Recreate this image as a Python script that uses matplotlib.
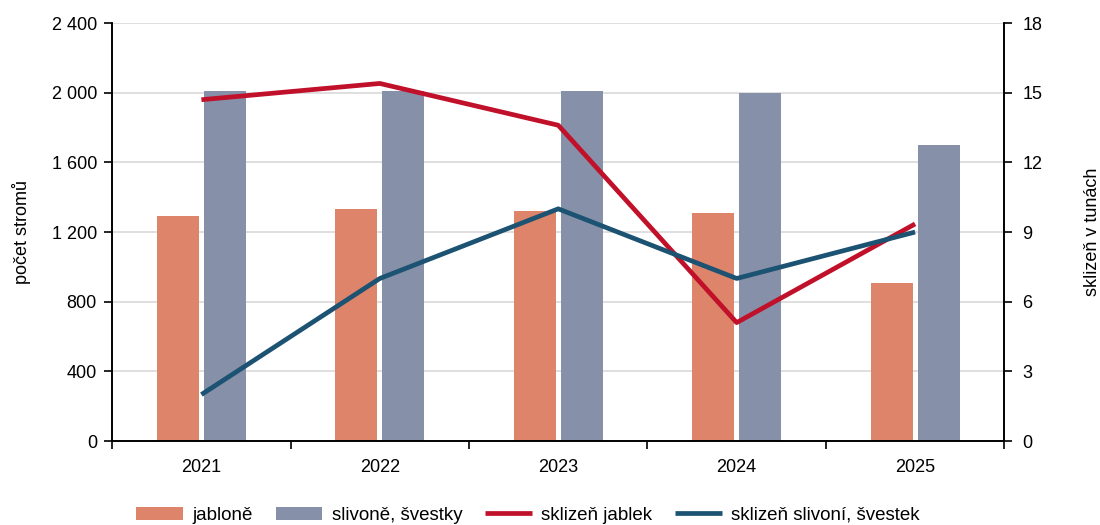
import matplotlib.pyplot as plt
import numpy as np

plt.rcParams['font.family'] = ['Liberation Sans', 'DejaVu Sans']

years = ['2021', '2022', '2023', '2024', '2025']
jablone = [1290, 1330, 1320, 1310, 905]
slivone = [2010, 2010, 2010, 2000, 1700]
sklizen_jablek = [14.7, 15.4, 13.6, 5.1, 9.35]
sklizen_slivoni = [2, 7, 10, 7, 9]

c_jab = '#DD846A'
c_sliv = '#8690A8'
c_red = '#C0102A'
c_blue = '#1C5272'

fig = plt.figure(figsize=(11, 5.25), dpi=100)
ax = fig.add_axes([0.102, 0.16, 0.811, 0.796])
ax2 = ax.twinx()

x = np.arange(len(years))
w = 0.235
off = 0.132
ax.bar(x - off, jablone, w, color=c_jab, label='jabloně', zorder=2)
ax.bar(x + off, slivone, w, color=c_sliv, label='slivoně, švestky', zorder=2)

ax2.plot(x, sklizen_jablek, color=c_red, lw=3.4, label='sklizeň jablek', solid_capstyle='butt')
ax2.plot(x, sklizen_slivoni, color=c_blue, lw=3.4, label='sklizeň slivoní, švestek', solid_capstyle='butt')

ax.set_xlim(-0.5, len(years) - 0.5)
ax.set_ylim(0, 2400)
ax.set_yticks(np.arange(0, 2401, 400))
ax.set_yticklabels([f'{v:,}'.replace(',', ' ') for v in range(0, 2401, 400)])
ax2.set_ylim(0, 18)
ax2.set_yticks(np.arange(0, 19, 3))

ax.set_xticks(x)
ax.set_xticklabels(years)
ax.set_xticks(np.arange(-0.5, len(years), 1), minor=True)
ax.tick_params(axis='x', which='major', length=0, pad=13, labelsize=13)
ax.tick_params(axis='x', which='minor', length=6, width=1.2, direction='out')
ax.tick_params(axis='y', length=6, width=1.2, labelsize=13, pad=5)
ax2.tick_params(axis='y', length=6, width=1.2, labelsize=13, pad=7)

ax.yaxis.grid(True, color='#d9d9d9', lw=1.2, zorder=0)
ax.set_axisbelow(True)

for a in (ax, ax2):
    a.spines['top'].set_visible(False)
    for s in ('left', 'right', 'bottom'):
        a.spines[s].set_linewidth(1.2)
        a.spines[s].set_color('black')

ax.set_ylabel('počet stromů', fontsize=13, labelpad=15)
ax2.set_ylabel('sklizeň v tunách', fontsize=13, labelpad=30)

h1, l1 = ax.get_legend_handles_labels()
h2, l2 = ax2.get_legend_handles_labels()
fig.legend(h1 + h2, l1 + l2, loc='lower center', ncol=4, frameon=False,
           fontsize=13.5, bbox_to_anchor=(0.48, -0.03), handlelength=2.5,
           columnspacing=1.2, handletextpad=0.5)

fig.savefig('out.png', dpi=100)
